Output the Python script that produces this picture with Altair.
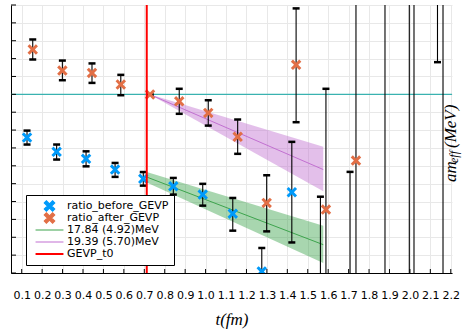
import altair as alt
import pandas as pd

# ---------------- data ----------------
blue_t  = [0.126, 0.271, 0.415, 0.557, 0.695, 0.842, 0.986, 1.133, 1.275, 1.422, 1.562, 1.707, 1.997, 2.135]
blue_v  = [7.58, 6.78, 6.39, 5.79, 5.27, 4.85, 4.39, 3.32, 0.09, 4.52, -1.6, -2.5, -8.0, 25.0]
blue_lo = [7.19, 6.35, 5.97, 5.38, 4.89, 4.39, 3.77, 2.37, -1.2, 1.71, -7.4, -10.7, -30.0, 11.8]
blue_hi = [7.97, 7.19, 6.81, 6.16, 5.65, 5.32, 4.99, 4.20, 1.40, 7.34, 4.27, 5.66, 25.0, 38.0]

orange_t  = [0.154, 0.299, 0.444, 0.585, 0.728, 0.871, 1.013, 1.157, 1.299, 1.443, 1.589, 1.736, 1.878, 2.020, 2.162]
orange_v  = [12.51, 11.33, 11.20, 10.55, 9.99, 9.61, 8.96, 7.62, 3.92, 11.65, 3.55, 6.29, 18.0, -6.0, 20.0]
orange_lo = [11.95, 10.79, 10.64, 9.95, 9.99, 8.91, 8.25, 6.67, 2.33, 8.44, -3.2, -4.0, -5.0, -25.0, -4.0]
orange_hi = [13.07, 11.89, 11.73, 11.09, 9.99, 10.31, 9.67, 8.59, 5.47, 14.81, 10.31, 16.6, 41.0, 16.0, 44.0]

green_t   = [0.712, 1.576]
green_mid = [5.37, 1.585]
green_lo  = [5.06, 0.56]
green_hi  = [5.66, 2.65]

purple_t   = [0.725, 1.576]
purple_mid = [10.0, 5.79]
purple_lo  = [10.0, 4.57]
purple_hi  = [10.0, 7.06]

t0_values = [0.712]
plateau_values = [10.0]

xtick_vals = [0.1, 0.2, 0.3, 0.4, 0.5, 0.6, 0.7, 0.8, 0.9, 1.0, 1.1,
              1.2, 1.3, 1.4, 1.5, 1.6, 1.7, 1.8, 1.9, 2.0, 2.1, 2.2]
ytick_vals = [0, 1, 2, 3, 4, 5, 6, 7, 8, 9, 10, 11, 12, 13, 14, 15]

S_BEFORE = "ratio_before_GEVP"
S_AFTER = "ratio_after_GEVP"
S_GREEN = "17.84 (4.92)MeV"
S_PURPLE = "19.39 (5.70)MeV"
S_T0 = "GEVP_t0"
series_names = [S_BEFORE, S_AFTER, S_GREEN, S_PURPLE, S_T0]
series_colors = ["#009AFA", "#E26F46", "#3DA44D", "#C270D1", "#FF0000"]

# ---------------- tables ----------------
pts = pd.concat([
    pd.DataFrame({"t": blue_t, "v": blue_v, "lo": blue_lo, "hi": blue_hi, "series": S_BEFORE}),
    pd.DataFrame({"t": orange_t, "v": orange_v, "lo": orange_lo, "hi": orange_hi, "series": S_AFTER}),
], ignore_index=True)
green_df = pd.DataFrame({"t": green_t, "v": green_mid, "lo": green_lo, "hi": green_hi, "series": S_GREEN})
purple_df = pd.DataFrame({"t": purple_t, "v": purple_mid, "lo": purple_lo, "hi": purple_hi, "series": S_PURPLE})
fits = pd.concat([green_df, purple_df], ignore_index=True)
t0_df = pd.DataFrame({"t": t0_values, "series": S_T0})
plateau_df = pd.DataFrame({"v": plateau_values})
xt_df = pd.DataFrame({"t": xtick_vals})
yt_df = pd.DataFrame({"v": ytick_vals})

# ---------------- styling ----------------
XPATH = "M-1,-0.6L-0.6,-1L0,-0.4L0.6,-1L1,-0.6L0.4,0L1,0.6L0.6,1L0,0.4L-0.6,1L-1,0.6L-0.4,0Z"
LXPATH = "M-1.15,-0.69L-0.69,-1.15L0,-0.46L0.69,-1.15L1.15,-0.69L0.46,0L1.15,0.69L0.69,1.15L0,0.46L-0.69,1.15L-1.15,0.69L-0.46,0Z"
LINEPATH = "M-3.1,0L3.1,0"
REDPATH = "M-3.1,-0.11L3.1,-0.11M-3.1,0.11L3.1,0.11"
W, H = 441, 268
FONT = "DejaVu Sans"

xs = alt.Scale(domain=[0.0476, 2.206], nice=False, zero=False)
ys = alt.Scale(domain=[0, 15], nice=False, zero=False)
cs = alt.Scale(domain=series_names, range=series_colors)

isx = "indexof(['%s','%s'], datum.value) >= 0" % (S_BEFORE, S_AFTER)
legend = alt.Legend(
    title=None, orient="none", legendX=15, legendY=190,
    fillColor="white", strokeColor="black", padding=5, cornerRadius=0,
    labelFont=FONT, labelFontSize=11, labelColor="black", labelOffset=12,
    rowPadding=0, clipHeight=12, symbolSize=81, symbolOffset=13, symbolStrokeWidth=1.2,
    symbolOpacity=1,
    symbolType={"expr": "%s ? '%s' : (datum.value == '%s' ? '%s' : '%s')" % (isx, LXPATH, S_T0, REDPATH, LINEPATH)},
    symbolFillColor={"expr": "%s ? scale('color', datum.value) : 'transparent'" % isx},
    symbolStrokeColor={"expr": "%s ? 'transparent' : scale('color', datum.value)" % isx},
)
color = alt.Color("series:N", scale=cs, legend=legend)

xaxis = alt.Axis(values=xtick_vals, format=".1f", title="t(fm)", grid=True, gridColor="#e8e8e8",
                 gridWidth=1, domainColor="black", domainWidth=1, tickSize=0, labelPadding=16,
                 labelFont=FONT, labelFontSize=11, labelColor="black", labelFlush=False,
                 labelOverlap=False, titleFont="Liberation Serif", titleFontStyle="italic",
                 titleFontWeight="normal", titleFontSize=17, titleColor="black", titlePadding=11)
yaxis = alt.Axis(values=ytick_vals, labels=False, title="", grid=True, gridColor="#e8e8e8",
                 gridWidth=1, domainColor="black", domainWidth=1, tickSize=0)


def X(field="t"):
    return alt.X(field + ":Q", scale=xs, axis=xaxis)


def Y(field="v"):
    return alt.Y(field + ":Q", scale=ys, axis=yaxis)


green_band = alt.Chart(green_df).mark_area(color="#3DA44D", opacity=0.45, clip=True).encode(
    x=X(), y=Y("lo"), y2="hi:Q")
purple_band = alt.Chart(purple_df).mark_area(color="#C270D1", opacity=0.45, clip=True).encode(
    x=X(), y=Y("lo"), y2="hi:Q")

fit_lines = alt.Chart(fits).mark_line(strokeWidth=1, clip=True).encode(
    x=X(), y=Y(), color=color)

plateau = alt.Chart(plateau_df).mark_rule(color="#3AB2B0", strokeWidth=1.2).encode(y=Y())

bars = alt.Chart(pts).mark_rule(color="black", strokeWidth=1.1, clip=True).encode(
    x=X(), y=Y("lo"), y2="hi:Q")
cap_lo = alt.Chart(pts).mark_tick(orient="horizontal", size=7, thickness=2.5, color="black",
                                  opacity=1, clip=True).encode(x=X(), y=Y("lo"))
cap_hi = alt.Chart(pts).mark_tick(orient="horizontal", size=7, thickness=2.5, color="black",
                                  opacity=1, clip=True).encode(x=X(), y=Y("hi"))

points = alt.Chart(pts).mark_point(shape=XPATH, filled=True, size=110, opacity=1, clip=True).encode(
    x=X(), y=Y(), color=color)

t0_rule = alt.Chart(t0_df).mark_rule(strokeWidth=2).encode(x=X(), color=color)

xticks = alt.Chart(xt_df).mark_rule(color="black", strokeWidth=1).encode(
    x=X(), y=alt.value(H), y2=alt.value(H - 4))
yticks = alt.Chart(yt_df).mark_rule(color="black", strokeWidth=1).encode(
    y=Y(), x=alt.value(0), x2=alt.value(5))

ylab_main = alt.Chart(pd.DataFrame({"s": ["am"]})).mark_text(
    angle=270, align="left", baseline="middle", font="Liberation Serif", fontStyle="italic",
    fontSize=17, color="black").encode(text="s:N", x=alt.value(440), y=alt.value(177))
ylab_sub = alt.Chart(pd.DataFrame({"s": ["eff"]})).mark_text(
    angle=270, align="left", baseline="middle", font="Liberation Serif", fontStyle="italic",
    fontSize=12, color="black").encode(text="s:N", x=alt.value(443), y=alt.value(158))
ylab_unit = alt.Chart(pd.DataFrame({"s": ["(MeV)"]})).mark_text(
    angle=270, align="left", baseline="middle", font="Liberation Serif", fontStyle="italic",
    fontSize=17, color="black").encode(text="s:N", x=alt.value(440), y=alt.value(143))

chart = alt.layer(
    green_band, purple_band, fit_lines, plateau, bars, cap_lo, cap_hi,
    points, t0_rule, xticks, yticks, ylab_main, ylab_sub, ylab_unit
).properties(
    width=W, height=H,
    padding={"left": 11, "top": 5, "right": 10, "bottom": 58},
    autosize=alt.AutoSizeParams(type="none"),
    background="white",
).configure_view(stroke=None)

chart.save("out.html", embed_options={"renderer": "svg", "actions": False})
